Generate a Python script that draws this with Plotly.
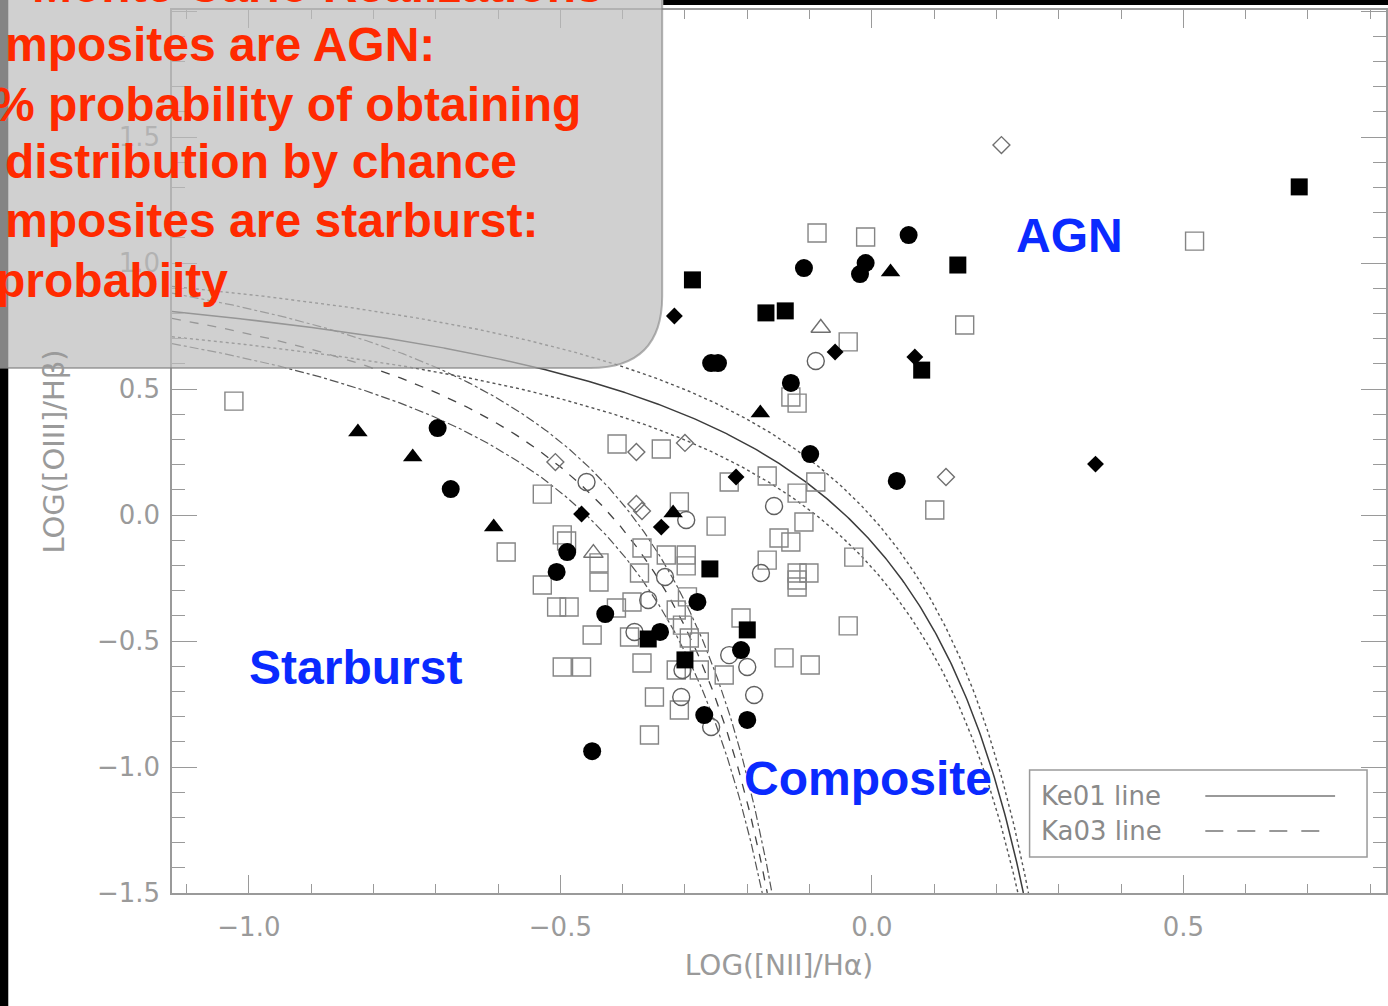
import numpy as np
import plotly.graph_objects as go

# ---------------- data: log([NII]/Ha) , log([OIII]/Hb) ----------------
open_sq_x = [-0.088, -0.010, 0.518, 0.149, -0.038, -1.024, -0.130, -0.120, -0.409, -0.338,
             -0.229, -0.168, -0.120, -0.090, 0.101, -0.529, -0.587, -0.497, -0.490, -0.438,
             -0.438, -0.529, -0.506, -0.486, -0.449, -0.497, -0.466, -0.410, -0.385, -0.389,
             -0.369, -0.330, -0.298, -0.298, -0.373, -0.309, -0.250, -0.314, -0.296, -0.304,
             -0.293, -0.277, -0.314, -0.277, -0.369, -0.237, -0.349, -0.309, -0.357, -0.210,
             -0.141, -0.099, -0.120, -0.109, -0.149, -0.130, -0.168, -0.120, -0.101, -0.120,
             -0.029, -0.038]
open_sq_y = [1.119, 1.103, 1.087, 0.754, 0.687, 0.452, 0.468, 0.444, 0.282, 0.262,
             0.131, 0.155, 0.087, 0.131, 0.020, 0.083, -0.147, -0.079, -0.103, -0.190,
             -0.266, -0.278, -0.365, -0.365, -0.476, -0.603, -0.603, -0.369, -0.345, -0.484,
             -0.131, -0.159, -0.159, -0.202, -0.230, 0.052, -0.044, -0.377, -0.325, -0.437,
             -0.488, -0.504, -0.615, -0.615, -0.587, -0.635, -0.722, -0.774, -0.873, -0.409,
             -0.567, -0.595, -0.258, -0.028, -0.091, -0.107, -0.179, -0.230, -0.230, -0.286,
             -0.167, -0.440]

fill_sq_x = [0.686, -0.288, 0.138, -0.170, -0.139, 0.080, -0.260, -0.200, -0.300, -0.359]
fill_sq_y = [1.302, 0.933, 0.992, 0.802, 0.810, 0.575, -0.214, -0.456, -0.575, -0.492]

fill_ci_x = [0.059, -0.109, -0.010, -0.019, -0.258, -0.247, -0.130, -0.099, 0.040, -0.697,
             -0.676, -0.489, -0.506, -0.428, -0.340, -0.280, -0.210, -0.269, -0.200, -0.449]
fill_ci_y = [1.111, 0.980, 1.000, 0.956, 0.603, 0.603, 0.524, 0.242, 0.135, 0.345,
             0.103, -0.147, -0.226, -0.393, -0.464, -0.345, -0.536, -0.794, -0.813, -0.937]

open_ci_x = [-0.090, -0.458, -0.298, -0.157, -0.178, -0.359, -0.381, -0.229, -0.200, -0.189,
             -0.306, -0.258, -0.332, -0.304]
open_ci_y = [0.611, 0.131, -0.020, 0.036, -0.230, -0.337, -0.464, -0.556, -0.603, -0.714,
             -0.722, -0.841, -0.246, -0.615]

fill_tri_x = [0.030, -0.179, -0.825, -0.737, -0.607, -0.319]
fill_tri_y = [0.964, 0.405, 0.329, 0.230, -0.048, 0.008]

open_tri_x = [-0.082, -0.447]
open_tri_y = [0.742, -0.151]

fill_dia_x = [-0.317, -0.059, 0.069, 0.359, -0.218, -0.466, -0.338]
fill_dia_y = [0.790, 0.647, 0.627, 0.202, 0.151, 0.004, -0.048]

open_dia_x = [0.208, 0.119, -0.300, -0.378, -0.508, -0.378, -0.369]
open_dia_y = [1.468, 0.151, 0.286, 0.250, 0.210, 0.044, 0.016]

# demarcation lines: y = A / (x - B) + C
KE01 = (0.61, 0.47, 1.19)   # Kewley et al. 2001
KA03 = (0.61, 0.05, 1.30)   # Kauffmann et al. 2003
LINE_OFFSETS = [-0.1, 0.1]

region_labels = ["AGN", "Starburst", "Composite"]
region_x = [0.3165, -0.829, -0.006]
region_y = [1.110, -0.607, -1.044]

overlay_lines = ["Monte Carlo Realizations",
                 "mposites are AGN:",
                 "% probability of obtaining",
                 "distribution by chance",
                 "mposites are starburst:",
                 "probabiity"]

legend_labels = ["Ke01 line", "Ka03 line"]

X_RANGE = [-1.1234, 0.8253]
Y_RANGE = [-1.5, 2.004]

# ---------------- layout geometry ----------------
W, H = 1388, 1006
ML, MR, MT, MB = 172, 0, 10, 113
PW, PH = W - ML - MR, H - MT - MB


def px_x(px):
    return (px - ML) / PW


def px_y(py):
    return (H - MB - py) / PH


GREY = "#9a9a9a"

fig = go.Figure()


def curve(coefs, off, x0, dash, width, color):
    a, b, c = coefs
    x_end = b + a / (Y_RANGE[0] - c - off)
    xs = np.linspace(x0, x_end, 500)
    ys = a / (xs - b) + c + off
    fig.add_trace(go.Scatter(x=xs, y=ys, mode="lines", hoverinfo="skip",
                             line=dict(color=color, width=width, dash=dash),
                             showlegend=False))


for off in LINE_OFFSETS:
    curve(KA03, off, X_RANGE[0], "dashdot", 1.2, "#555555")
curve(KA03, 0.0, X_RANGE[0], "dash", 1.3, "#444444")
for off in LINE_OFFSETS:
    curve(KE01, off, X_RANGE[0], "dot", 1.4, "#555555")
curve(KE01, 0.0, X_RANGE[0], "solid", 1.5, "#3c3c3c")


def pts(x, y, symbol, size, color, lw=1.5):
    fig.add_trace(go.Scatter(
        x=x, y=y, mode="markers", showlegend=False, hoverinfo="x+y",
        marker=dict(symbol=symbol, size=size, color=color,
                    line=dict(width=lw, color=color))))


pts(open_sq_x, open_sq_y, "square-open", 18, "#858585", 1.4)
pts(open_ci_x, open_ci_y, "circle-open", 17, "#606060", 1.4)
pts(open_dia_x, open_dia_y, "diamond-open", 13, "#707070", 1.4)
pts(open_tri_x, open_tri_y, "triangle-up-open", 17, "#707070", 1.4)
pts(fill_sq_x, fill_sq_y, "square", 17, "black", 0)
pts(fill_ci_x, fill_ci_y, "circle", 18, "black", 0)
pts(fill_tri_x, fill_tri_y, "triangle-up", 17, "black", 0)
pts(fill_dia_x, fill_dia_y, "diamond", 13, "black", 0)

tickfont = dict(family="DejaVu Sans, Liberation Sans, sans-serif", size=26, color=GREY)

fig.update_xaxes(range=X_RANGE, tick0=0, dtick=0.5, tickformat=".1f",
                 ticks="inside", ticklen=18, tickwidth=1.4, tickcolor=GREY,
                 minor=dict(dtick=0.1, ticks="inside", ticklen=9, tickwidth=1.2, tickcolor=GREY),
                 showline=True, linecolor=GREY, linewidth=1.5, mirror="allticks",
                 showgrid=False, zeroline=False, tickfont=tickfont, ticklabelstandoff=10,
                 title=dict(text="LOG([NII]/Hα)", standoff=14,
                            font=dict(family="DejaVu Sans, sans-serif", size=28, color=GREY)))
fig.update_yaxes(range=Y_RANGE, tick0=0, dtick=0.5, tickformat=".1f",
                 ticks="inside", ticklen=25, tickwidth=1.4, tickcolor=GREY,
                 minor=dict(dtick=0.1, ticks="inside", ticklen=13, tickwidth=1.2, tickcolor=GREY),
                 showline=True, linecolor=GREY, linewidth=1.5, mirror="allticks",
                 showgrid=False, zeroline=False, tickfont=tickfont, ticklabelstandoff=5,
                 title=dict(text="LOG([OIII]/Hβ)", standoff=24,
                            font=dict(family="DejaVu Sans, sans-serif", size=29, color=GREY)))

shapes = []
# black frame pieces of the slide
shapes.append(dict(type="rect", xref="paper", yref="paper", layer="above",
                   x0=px_x(-5), x1=px_x(8), y0=px_y(H + 5), y1=px_y(-5),
                   fillcolor="black", line=dict(width=0)))
shapes.append(dict(type="rect", xref="paper", yref="paper", layer="above",
                   x0=px_x(664), x1=px_x(W + 5), y0=px_y(5), y1=px_y(-5),
                   fillcolor="black", line=dict(width=0)))

# legend box
shapes.append(dict(type="rect", xref="paper", yref="paper", layer="above",
                   x0=px_x(1031), x1=px_x(1369), y0=px_y(857), y1=px_y(770),
                   fillcolor="rgba(0,0,0,0)", line=dict(color=GREY, width=1.5)))
shapes.append(dict(type="line", xref="paper", yref="paper", layer="above",
                   x0=px_x(1207), x1=px_x(1337), y0=px_y(796), y1=px_y(796),
                   line=dict(color="#777777", width=1.3)))
shapes.append(dict(type="line", xref="paper", yref="paper", layer="above",
                   x0=px_x(1207), x1=px_x(1325), y0=px_y(831), y1=px_y(831),
                   line=dict(color="#777777", width=1.3, dash="18px,14px")))

# translucent callout box with rounded bottom-right corner
bx0, by0, bx1, by1, rad = -20, -20, 663, 368, 72
path = (f"M {px_x(bx0)},{px_y(by0)} L {px_x(bx1)},{px_y(by0)} "
        f"L {px_x(bx1)},{px_y(by1 - rad)} "
        f"Q {px_x(bx1)},{px_y(by1)} {px_x(bx1 - rad)},{px_y(by1)} "
        f"L {px_x(bx0)},{px_y(by1)} Z")
shapes.append(dict(type="path", xref="paper", yref="paper", layer="above", path=path,
                   fillcolor="rgba(188,188,188,0.70)",
                   line=dict(color="rgba(130,130,130,0.6)", width=2)))

annotations = []
red_font = dict(family="Liberation Sans, Arial, sans-serif", size=48, color="#ff2a00", weight="bold")
red_pos = [(30, 1), (3, 60), (-10, 120), (3, 178), (3, 236), (-6, 296)]
for txt, (lx, base) in zip(overlay_lines, red_pos):
    annotations.append(dict(text=txt, xref="paper", yref="paper", x=px_x(lx), y=px_y(base - 16),
                            xanchor="left", yanchor="middle", showarrow=False, font=red_font))

blue_font = dict(family="Liberation Sans, Arial, sans-serif", size=48, color="#0a2aff", weight="bold")
for txt, lx, ly in zip(region_labels, region_x, region_y):
    annotations.append(dict(text=txt, x=lx, y=ly, xref="x", yref="y", showarrow=False,
                            xanchor="center", yanchor="middle", font=blue_font))

leg_font = dict(family="DejaVu Sans, sans-serif", size=26, color="#8a8a8a")
for txt, ly in zip(legend_labels, [796, 831]):
    annotations.append(dict(text=txt, xref="paper", yref="paper", x=px_x(1040), y=px_y(ly),
                            xanchor="left", yanchor="middle", showarrow=False, font=leg_font))

fig.update_layout(width=W, height=H, margin=dict(l=ML, r=MR, t=MT, b=MB),
                  plot_bgcolor="white", paper_bgcolor="white",
                  shapes=shapes, annotations=annotations, showlegend=False)

fig.write_html("out.html")
